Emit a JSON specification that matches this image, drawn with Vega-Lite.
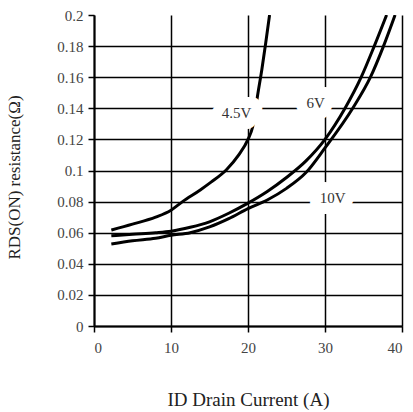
{
  "$schema": "https://vega.github.io/schema/vega-lite/v6.json",
  "width": 308,
  "height": 311,
  "autosize": {"type": "none"},
  "padding": {"left": 94, "top": 15, "right": 11, "bottom": 86},
  "background": "white",
  "config": {
    "view": {"stroke": null},
    "font": "Liberation Serif",
    "axis": {
      "domainColor": "black", "domainWidth": 2,
      "tickColor": "black", "tickWidth": 1.5, "tickSize": 6,
      "gridColor": "black", "gridWidth": 1.5, "gridOpacity": 1,
      "labelFont": "Liberation Serif", "labelFontSize": 15, "labelColor": "#444",
      "titleFont": "Liberation Serif", "titleFontWeight": "normal", "titleColor": "#222"
    }
  },
  "datasets": {
    "curves": [
      {"v": "4.5V", "I": 2.25, "R": 0.0617},
      {"v": "4.5V", "I": 5, "R": 0.0655},
      {"v": "4.5V", "I": 8, "R": 0.0700},
      {"v": "4.5V", "I": 10, "R": 0.0745},
      {"v": "4.5V", "I": 11.5, "R": 0.0800},
      {"v": "4.5V", "I": 13.8, "R": 0.0875},
      {"v": "4.5V", "I": 15.2, "R": 0.0925},
      {"v": "4.5V", "I": 17.2, "R": 0.1005},
      {"v": "4.5V", "I": 18.8, "R": 0.1100},
      {"v": "4.5V", "I": 20, "R": 0.1200},
      {"v": "4.5V", "I": 20.6, "R": 0.1280},
      {"v": "4.5V", "I": 21.3, "R": 0.1500},
      {"v": "4.5V", "I": 21.8, "R": 0.1650},
      {"v": "4.5V", "I": 22.3, "R": 0.1820},
      {"v": "4.5V", "I": 22.8, "R": 0.2000},
      {"v": "6V", "I": 2.25, "R": 0.0580},
      {"v": "6V", "I": 5, "R": 0.0590},
      {"v": "6V", "I": 8, "R": 0.0600},
      {"v": "6V", "I": 10, "R": 0.0610},
      {"v": "6V", "I": 12.5, "R": 0.0635},
      {"v": "6V", "I": 15, "R": 0.0670},
      {"v": "6V", "I": 17.5, "R": 0.0725},
      {"v": "6V", "I": 20, "R": 0.0790},
      {"v": "6V", "I": 22.5, "R": 0.0865},
      {"v": "6V", "I": 25, "R": 0.0955},
      {"v": "6V", "I": 27.5, "R": 0.1060},
      {"v": "6V", "I": 30, "R": 0.1200},
      {"v": "6V", "I": 32.6, "R": 0.1400},
      {"v": "6V", "I": 34.7, "R": 0.1600},
      {"v": "6V", "I": 36.4, "R": 0.1800},
      {"v": "6V", "I": 38.0, "R": 0.2000},
      {"v": "10V", "I": 2.25, "R": 0.0527},
      {"v": "10V", "I": 5, "R": 0.0548},
      {"v": "10V", "I": 8, "R": 0.0565},
      {"v": "10V", "I": 10, "R": 0.0583},
      {"v": "10V", "I": 12.5, "R": 0.0600},
      {"v": "10V", "I": 15, "R": 0.0637},
      {"v": "10V", "I": 17.5, "R": 0.0690},
      {"v": "10V", "I": 20, "R": 0.0755},
      {"v": "10V", "I": 22.5, "R": 0.0810},
      {"v": "10V", "I": 25, "R": 0.0885},
      {"v": "10V", "I": 27.5, "R": 0.0985},
      {"v": "10V", "I": 30, "R": 0.1145},
      {"v": "10V", "I": 33.6, "R": 0.1400},
      {"v": "10V", "I": 35.9, "R": 0.1600},
      {"v": "10V", "I": 37.6, "R": 0.1800},
      {"v": "10V", "I": 39.1, "R": 0.2000}
    ],
    "labels": [
      {"t": "4.5V", "I": 18.5, "R": 0.137},
      {"t": "6V", "I": 28.8, "R": 0.1437},
      {"t": "10V", "I": 31.0, "R": 0.0826}
    ]
  },
  "encoding": {
    "x": {
      "field": "I", "type": "quantitative",
      "scale": {"domain": [0, 40], "nice": false},
      "axis": {
        "title": "ID Drain Current (A)",
        "values": [0, 10, 20, 30, 40],
        "labelFont": "Liberation Serif",
        "labelPadding": 8,
        "titleFontSize": 19,
        "titleY": 73,
        "titleBaseline": "middle"
      }
    },
    "y": {
      "field": "R", "type": "quantitative",
      "scale": {"domain": [0, 0.2], "nice": false},
      "axis": {
        "title": "RDS(ON) resistance(Ω)",
        "values": [0, 0.02, 0.04, 0.06, 0.08, 0.1, 0.12, 0.14, 0.16, 0.18, 0.2],
        "format": "~f",
        "labelFont": "Liberation Serif",
        "labelPadding": 5,
        "titleFontSize": 17,
        "titleAngle": -90,
        "titleX": -80,
        "titleY": 162,
        "titleAlign": "center",
        "titleBaseline": "middle",
        "gridOpacity": {"condition": {"test": "datum.value >= 0.199", "value": 0}, "value": 1}
      }
    }
  },
  "layer": [
    {
      "data": {"name": "curves"},
      "mark": {"type": "line", "interpolate": "monotone", "strokeWidth": 3, "color": "black", "clip": true},
      "encoding": {"detail": {"field": "v"}}
    },
    {
      "data": {"name": "labels"},
      "mark": {"type": "text", "fontSize": 15, "font": "Liberation Serif", "fill": "white", "stroke": "white", "strokeWidth": 22, "strokeJoin": "round"},
      "encoding": {"text": {"field": "t"}}
    },
    {
      "data": {"name": "labels"},
      "mark": {"type": "text", "fontSize": 15, "font": "Liberation Serif", "color": "#333"},
      "encoding": {"text": {"field": "t"}}
    }
  ]
}
